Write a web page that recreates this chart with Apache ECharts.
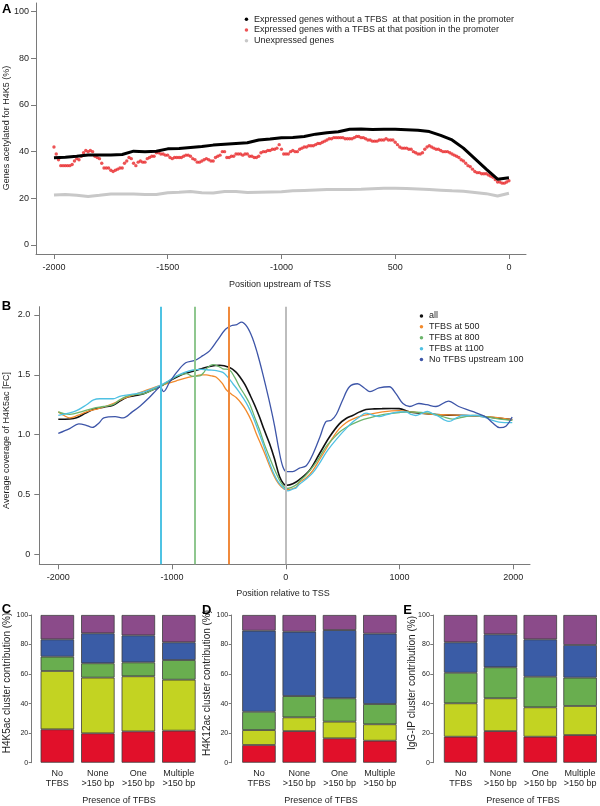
<!DOCTYPE html>
<html><head><meta charset="utf-8">
<script src="https://cdn.jsdelivr.net/npm/echarts@6.0.0/dist/echarts.min.js"></script>
<style>html,body{margin:0;padding:0;background:#fff}#c{width:600px;height:806px}</style>
</head><body><div id="c"></div>
<script>
// ---------- Panel A ----------
const aNames = ['Expressed genes without a TFBS  at that position in the promoter',
                'Expressed genes with a TFBS at that position in the promoter',
                'Unexpressed genes'];
const aTickValues = [-2000, -1500, -1000, -500, 0];
const aTickLabels = ['-2000', '-1500', '-1000', '500', '0'];
const aYTicks = [0, 20, 40, 60, 80, 100];
const aLineStart = -2000, aLineStep = 50;
const aBlack = [37.4,37.6,38,38.6,38.6,38.6,38.8,40.2,40,40.2,41.2,41.4,41.8,42.2,42.8,43.2,43.5,43.8,45,45.4,
  46,46.1,46.5,47.5,48.1,48.5,49.6,49.7,49.5,49.6,49.6,49.4,49.2,48.6,47,45,41.5,37,32.5,28.2,28.8];
const aGrey = [21.4,21.6,21.3,20.8,21.3,21.9,21.9,21.9,21.6,21.6,22.4,22.6,22.9,22.4,22.3,22.9,22.9,22.5,22.6,22.7,
  22.8,23.2,23.4,23.6,23.8,23.8,23.8,23.9,24.1,24.3,24.3,24.2,24.0,23.8,23.5,23.2,23,22.5,22,21,22.2];
const aRedStart = -2000, aRedStep = 10;
const aRed = [42,39,36.5,34,34,34,34,34,34.5,36,37,36.5,38,39.5,40.5,40,40.5,40,38,37.5,
  37,35,33,33,33,32,31.5,32,32.5,33,33,35,36,37.5,37,35,34,35.5,36,35.5,
  35.5,37,37.5,38,38,39.5,39.5,39,39,38.5,38.5,37.5,37,37.5,37.5,37.5,37.5,38,38.5,38.5,
  38,37,36.5,35.5,35.5,36,36.5,37,36.5,36,36,37.5,38,38.5,40,40,37.5,37.5,38,38,
  39,39,39,38.5,39,39,38,38,37.5,37.5,38,39.5,40,40,40.5,40.5,41,41,41.5,43,
  41,39,39,39,40,40.5,40,40,41,41.5,42,42,42.5,42.5,42.5,43,43.5,43.5,44,44.5,
  45,45.5,45.5,46,46,46,46,46,45.5,45.5,45.5,45.5,46,46.5,46.5,46,46,45.5,45,45,
  44.5,44.5,44.5,45,45,45,45.5,45,45,45,44,43,42,41.5,41.5,41.5,41,41,40,39.5,
  39,39,39.5,41,42,42.5,42,41.5,41,41,40.5,40,40,40,39.5,39,38.5,38,37.5,36.5,
  36,35,34,33.5,32.5,31.5,31,31,30.5,30.5,30.5,30,29.5,29,28,27,27,26.5,26.5,27,27.5];

// ---------- Panel B ----------
const bNames = ['all', 'TFBS at 500', 'TFBS at 800', 'TFBS at 1100', 'No TFBS upstream 100'];
const bColors = ['#111111', '#f28a2c', '#6cb56c', '#4fc1e3', '#3d55a8'];
const bXTicks = [-2000, -1000, 0, 1000, 2000];
const bYTicks = [0, 0.5, 1, 1.5, 2];
const bYTickLabels = ['0', '0.5', '1.0', '1.5', '2.0'];
const bVLines = [-1100, -800, -500, 0];
const bVLineColors = ['#4fc3e3', '#8fc78f', '#f08a3c', '#bdbdbd'];
const bAll = [[-2000,1.128],[-1900,1.13],[-1840,1.14],[-1760,1.18],[-1694,1.21],[-1600,1.23],[-1518,1.245],[-1460,1.28],[-1401,1.31],[-1330,1.325],[-1255,1.34],[-1180,1.37],[-1108,1.40],[-1030,1.445],[-962,1.48],[-890,1.51],[-816,1.53],[-740,1.55],[-670,1.57],[-582,1.58],[-494,1.56],[-440,1.525],[-406,1.486],[-360,1.42],[-319,1.34],[-275,1.25],[-231,1.147],[-190,1.04],[-143,0.925],[-100,0.80],[-55,0.65],[-20,0.59],[10,0.577],[62,0.59],[120,0.625],[208,0.70],[296,0.84],[384,0.98],[471,1.09],[530,1.135],[588,1.16],[650,1.19],[705,1.21],[780,1.215],[851,1.217],[930,1.218],[997,1.217],[1085,1.19],[1190,1.178],[1290,1.17],[1430,1.163],[1582,1.16],[1758,1.15],[1880,1.137],[1991,1.125]];
const b500 = [[-2000,1.19],[-1950,1.16],[-1898,1.14],[-1830,1.16],[-1752,1.19],[-1640,1.22],[-1518,1.26],[-1430,1.30],[-1343,1.33],[-1230,1.37],[-1108,1.41],[-1030,1.43],[-962,1.45],[-890,1.47],[-816,1.486],[-740,1.50],[-699,1.50],[-650,1.49],[-611,1.48],[-560,1.43],[-523,1.375],[-480,1.34],[-436,1.31],[-390,1.26],[-348,1.20],[-300,1.11],[-260,1.01],[-215,0.91],[-172,0.81],[-130,0.71],[-84,0.62],[-40,0.565],[4,0.54],[50,0.545],[91,0.56],[120,0.60],[180,0.64],[237,0.70],[296,0.79],[354,0.88],[410,0.97],[471,1.05],[530,1.10],[588,1.13],[660,1.155],[734,1.17],[850,1.19],[997,1.20],[1100,1.19],[1200,1.18],[1290,1.17],[1430,1.165],[1582,1.16],[1758,1.15],[1880,1.14],[1991,1.125]];
const b800 = [[-2000,1.19],[-1950,1.175],[-1898,1.17],[-1800,1.19],[-1694,1.22],[-1600,1.235],[-1518,1.25],[-1460,1.29],[-1401,1.32],[-1330,1.335],[-1255,1.34],[-1180,1.37],[-1108,1.40],[-1030,1.445],[-962,1.486],[-874,1.51],[-816,1.486],[-757,1.49],[-720,1.52],[-699,1.55],[-640,1.585],[-590,1.57],[-553,1.55],[-494,1.54],[-450,1.48],[-406,1.40],[-360,1.33],[-319,1.26],[-275,1.15],[-231,1.04],[-190,0.925],[-143,0.81],[-100,0.71],[-55,0.62],[-20,0.57],[4,0.55],[50,0.56],[91,0.58],[120,0.61],[180,0.665],[237,0.73],[296,0.81],[354,0.90],[410,0.96],[471,1.02],[530,1.06],[588,1.09],[660,1.12],[734,1.14],[820,1.16],[910,1.175],[1000,1.185],[1085,1.19],[1190,1.185],[1290,1.175],[1380,1.15],[1465,1.13],[1550,1.145],[1640,1.16],[1700,1.16],[1758,1.15],[1880,1.13],[1991,1.12]];
const b1100 = [[-2000,1.16],[-1927,1.175],[-1840,1.20],[-1752,1.25],[-1690,1.29],[-1635,1.30],[-1518,1.30],[-1460,1.32],[-1401,1.33],[-1330,1.34],[-1255,1.355],[-1180,1.38],[-1108,1.41],[-1030,1.45],[-962,1.49],[-890,1.52],[-816,1.54],[-740,1.545],[-670,1.54],[-610,1.535],[-553,1.52],[-510,1.48],[-465,1.425],[-420,1.37],[-377,1.31],[-333,1.24],[-289,1.15],[-245,1.04],[-201,0.925],[-157,0.80],[-113,0.69],[-70,0.61],[-26,0.56],[18,0.53],[60,0.545],[91,0.555],[120,0.585],[180,0.63],[237,0.68],[296,0.76],[354,0.85],[410,0.92],[471,0.99],[530,1.05],[588,1.105],[650,1.15],[705,1.18],[760,1.165],[822,1.15],[880,1.165],[939,1.18],[1000,1.19],[1056,1.19],[1100,1.17],[1143,1.16],[1200,1.18],[1246,1.195],[1300,1.17],[1348,1.15],[1400,1.12],[1436,1.11],[1500,1.14],[1553,1.16],[1670,1.16],[1730,1.15],[1787,1.13],[1875,1.105],[1991,1.10]];
const bNone = [[-2000,1.01],[-1900,1.05],[-1820,1.09],[-1760,1.08],[-1700,1.06],[-1640,1.10],[-1600,1.14],[-1500,1.15],[-1430,1.14],[-1350,1.19],[-1280,1.24],[-1200,1.31],[-1140,1.37],[-1105,1.40],[-1075,1.36],[-1020,1.44],[-960,1.52],[-880,1.60],[-800,1.62],[-730,1.66],[-670,1.70],[-600,1.79],[-530,1.88],[-480,1.91],[-430,1.92],[-390,1.94],[-340,1.90],[-290,1.80],[-250,1.68],[-200,1.50],[-150,1.30],[-100,1.08],[-60,0.87],[-25,0.73],[10,0.69],[60,0.69],[120,0.72],[180,0.74],[240,0.84],[300,0.98],[355,1.11],[400,1.12],[445,1.17],[500,1.29],[560,1.40],[630,1.425],[690,1.39],[740,1.36],[820,1.39],[910,1.40],[970,1.34],[1030,1.26],[1090,1.235],[1170,1.26],[1240,1.25],[1320,1.235],[1430,1.28],[1520,1.235],[1640,1.194],[1760,1.147],[1820,1.097],[1880,1.058],[1935,1.07],[1990,1.147]];
const bSeriesData = [bAll, b500, b800, b1100, bNone];

// ---------- Panels C, D, E ----------
const barCategories = ['No\nTFBS', 'None\n>150 bp', 'One\n>150 bp', 'Multiple\n>150 bp'];
const barYTicks = [0, 20, 40, 60, 80, 100];
const layerColors = ['#e1102a', '#c3d322', '#69ae4f', '#3a5ca6', '#8b4b8a'];
// segment heights, bottom to top: red, yellow-green, green, blue, purple
const cRed = [22.6, 19.9, 21.2, 21.7];
const cYellow = [39.5, 37.7, 37.3, 34.5];
const cGreen = [9.7, 9.7, 9.4, 13.3];
const cBlue = [11.7, 20.3, 18.3, 12.0];
const cPurple = [16.5, 12.4, 13.8, 18.5];
const dRed = [12.0, 21.4, 16.5, 14.9];
const dYellow = [10.1, 9.3, 11.3, 11.1];
const dGreen = [12.4, 14.4, 15.8, 13.7];
const dBlue = [54.9, 43.6, 46.2, 47.7];
const dPurple = [10.6, 11.3, 10.2, 12.6];
const eRed = [17.6, 21.4, 17.6, 18.7];
const eYellow = [22.6, 22.2, 19.9, 19.7];
const eGreen = [20.7, 21.0, 20.7, 19.2];
const eBlue = [20.6, 22.3, 25.3, 22.1];
const ePurple = [18.5, 13.1, 16.5, 20.3];
const panelLayers = [[cRed, cYellow, cGreen, cBlue, cPurple],
                     [dRed, dYellow, dGreen, dBlue, dPurple],
                     [eRed, eYellow, eGreen, eBlue, ePurple]];
const barYTitles = ['H4K5ac cluster contribution (%)', 'H4K12ac cluster contribution (%)', 'IgG-IP cluster contribution (%)'];

// ---------- build ----------
const FONT = 'Liberation Sans, Arial, Helvetica, sans-serif';
const AX = '#7a7a7a', TX = '#1e1e1e';
function seq(start, step, vals) { return vals.map((v, i) => [start + step * i, v]); }

const grid = [
  {left: 36, top: 3, width: 490, height: 251},
  {left: 39.3, top: 306.7, width: 490.7, height: 257.6},
  {left: 37.1, top: 615, width: 162, height: 147.7},
  {left: 238.8, top: 615, width: 161.2, height: 147.7},
  {left: 440.75, top: 615, width: 162, height: 147.7}
];
const barOffsets = [5.4, 7.1, 7.45];

const xAxis = [
  {type: 'value', gridIndex: 0, min: -2079, max: 75,
   axisLine: {show: true, onZero: false, lineStyle: {color: AX, width: 1}},
   axisTick: {show: true, length: 5, customValues: aTickValues, lineStyle: {color: AX}},
   axisLabel: {customValues: aTickValues, fontSize: 9, fontFamily: FONT, color: TX, margin: 9,
     formatter: v => { const i = aTickValues.indexOf(v); return i >= 0 ? aTickLabels[i] : ''; }},
   splitLine: {show: false}},
  {type: 'value', gridIndex: 1, min: -2167, max: 2147,
   axisLine: {show: true, onZero: false, lineStyle: {color: AX, width: 1}},
   axisTick: {show: true, length: 5, customValues: bXTicks, lineStyle: {color: AX}},
   axisLabel: {customValues: bXTicks, fontSize: 9, fontFamily: FONT, color: TX, margin: 9,
     formatter: v => String(v)},
   splitLine: {show: false}}
];
const yAxis = [
  {type: 'value', gridIndex: 0, min: -3.86, max: 103.7,
   axisLine: {show: true, onZero: false, lineStyle: {color: AX, width: 1}},
   axisTick: {show: true, length: 5, customValues: aYTicks, lineStyle: {color: AX}},
   axisLabel: {customValues: aYTicks, fontSize: 9, fontFamily: FONT, color: TX, margin: 7},
   splitLine: {show: false}},
  {type: 'value', gridIndex: 1, min: -0.0836, max: 2.069,
   axisLine: {show: true, onZero: false, lineStyle: {color: AX, width: 1}},
   axisTick: {show: true, length: 5, customValues: bYTicks, lineStyle: {color: AX}},
   axisLabel: {customValues: bYTicks, fontSize: 9, fontFamily: FONT, color: TX, margin: 9,
     formatter: v => { const i = bYTicks.indexOf(v); return i >= 0 ? bYTickLabels[i] : String(v); }},
   splitLine: {show: false}}
];
for (let p = 0; p < 3; p++) {
  xAxis.push({type: 'category', gridIndex: 2 + p, data: barCategories,
    axisLine: {show: false}, axisTick: {show: false},
    axisLabel: {interval: 0, fontSize: 9, lineHeight: 10, fontFamily: FONT, color: TX, margin: 5.6}});
  yAxis.push({type: 'value', gridIndex: 2 + p, min: 0, max: 100, interval: 20, offset: barOffsets[p],
    axisLine: {show: true, onZero: false, lineStyle: {color: AX, width: 1}},
    axisTick: {show: true, length: 3, lineStyle: {color: AX}},
    axisLabel: {fontSize: 7, fontFamily: FONT, color: TX, margin: 3.5},
    splitLine: {show: false}});
}

const series = [
  {type: 'scatter', name: aNames[1], xAxisIndex: 0, yAxisIndex: 0, data: seq(aRedStart, aRedStep, aRed),
   symbol: 'circle', symbolSize: 3.4, itemStyle: {color: '#e8282a'}, silent: true},
  {type: 'line', name: aNames[0], xAxisIndex: 0, yAxisIndex: 0, data: seq(aLineStart, aLineStep, aBlack),
   showSymbol: false, symbol: 'none', lineStyle: {color: '#000', width: 3}, itemStyle: {color: '#000'}, silent: true},
  {type: 'line', name: aNames[2], xAxisIndex: 0, yAxisIndex: 0, data: seq(aLineStart, aLineStep, aGrey),
   showSymbol: false, symbol: 'none', lineStyle: {color: '#c8c8c8', width: 3}, itemStyle: {color: '#c8c8c8'}, silent: true},
  {type: 'line', name: 'vlines', xAxisIndex: 1, yAxisIndex: 1, data: [], silent: true,
   markLine: {silent: true, symbol: 'none', label: {show: false}, animation: false,
     data: bVLines.map((x, i) => ({xAxis: x, lineStyle: {color: bVLineColors[i], width: 2, type: 'solid'}}))}}
];
bSeriesData.forEach((d, i) => {
  series.push({type: 'line', name: bNames[i], xAxisIndex: 1, yAxisIndex: 1, data: d, smooth: 0.35,
    showSymbol: false, symbol: 'none', silent: true,
    lineStyle: {color: bColors[i], width: i === 0 ? 1.6 : 1.3}, itemStyle: {color: bColors[i]}});
});
const stacks = ['C', 'D', 'E'];
panelLayers.forEach((layers, p) => {
  layers.forEach((vals, k) => {
    series.push({type: 'bar', name: stacks[p] + k, xAxisIndex: 2 + p, yAxisIndex: 2 + p, stack: stacks[p],
      data: vals, barWidth: 33.5, silent: true,
      itemStyle: {color: layerColors[k], borderColor: '#3c3c3c', borderWidth: 0.8}});
  });
});

const legend = [
  {left: 239.7, top: 8.8, orient: 'vertical', itemGap: 0, itemWidth: 5, itemHeight: 3.5, icon: 'circle',
   selectedMode: false, data: aNames, textStyle: {fontSize: 9, lineHeight: 10.8, fontFamily: FONT, color: TX}},
  {left: 414.7, top: 305.5, orient: 'vertical', itemGap: 0, itemWidth: 5, itemHeight: 3.5, icon: 'circle',
   selectedMode: false, data: bNames, textStyle: {fontSize: 9, lineHeight: 10.9, fontFamily: FONT, color: TX}}
];

function txt(text, x, y, size, opts) {
  opts = opts || {};
  return {type: 'text', x: x, y: y, rotation: opts.rot || 0, silent: true,
    style: {text: text, fontSize: size, fontFamily: FONT, fontWeight: opts.bold ? 'bold' : 'normal',
      fill: opts.color || TX, align: 'center', verticalAlign: 'middle'}};
}
const R = Math.PI / 2;
const graphic = [
  txt('A', 6.7, 9.5, 13, {bold: true, color: '#000'}),
  txt('B', 6.5, 306.5, 13, {bold: true, color: '#000'}),
  txt('C', 6.5, 609.5, 13, {bold: true, color: '#000'}),
  txt('D', 206.7, 610, 13, {bold: true, color: '#000'}),
  txt('E', 407.5, 610, 13, {bold: true, color: '#000'}),
  txt('Genes acetylated for H4K5 (%)', 6.5, 128, 9, {rot: R}),
  txt('Position upstream of TSS', 280, 285, 9),
  txt('Average coverage of H4K5ac [FC]', 6.5, 440.5, 9, {rot: R}),
  txt('Position relative to TSS', 283, 594, 9),
  txt(barYTitles[0], 7.3, 683, 10, {rot: R}),
  txt(barYTitles[1], 207.3, 683, 10, {rot: R}),
  txt(barYTitles[2], 412, 683, 10, {rot: R}),
  txt('Presence of TFBS', 119, 801, 9),
  txt('Presence of TFBS', 321, 801, 9),
  txt('Presence of TFBS', 523, 801, 9)
];

const chart = echarts.init(document.getElementById('c'), null, {renderer: 'canvas'});
chart.setOption({animation: false, backgroundColor: '#fff', textStyle: {fontFamily: FONT},
  grid, xAxis, yAxis, series, legend, graphic});
</script></body></html>
